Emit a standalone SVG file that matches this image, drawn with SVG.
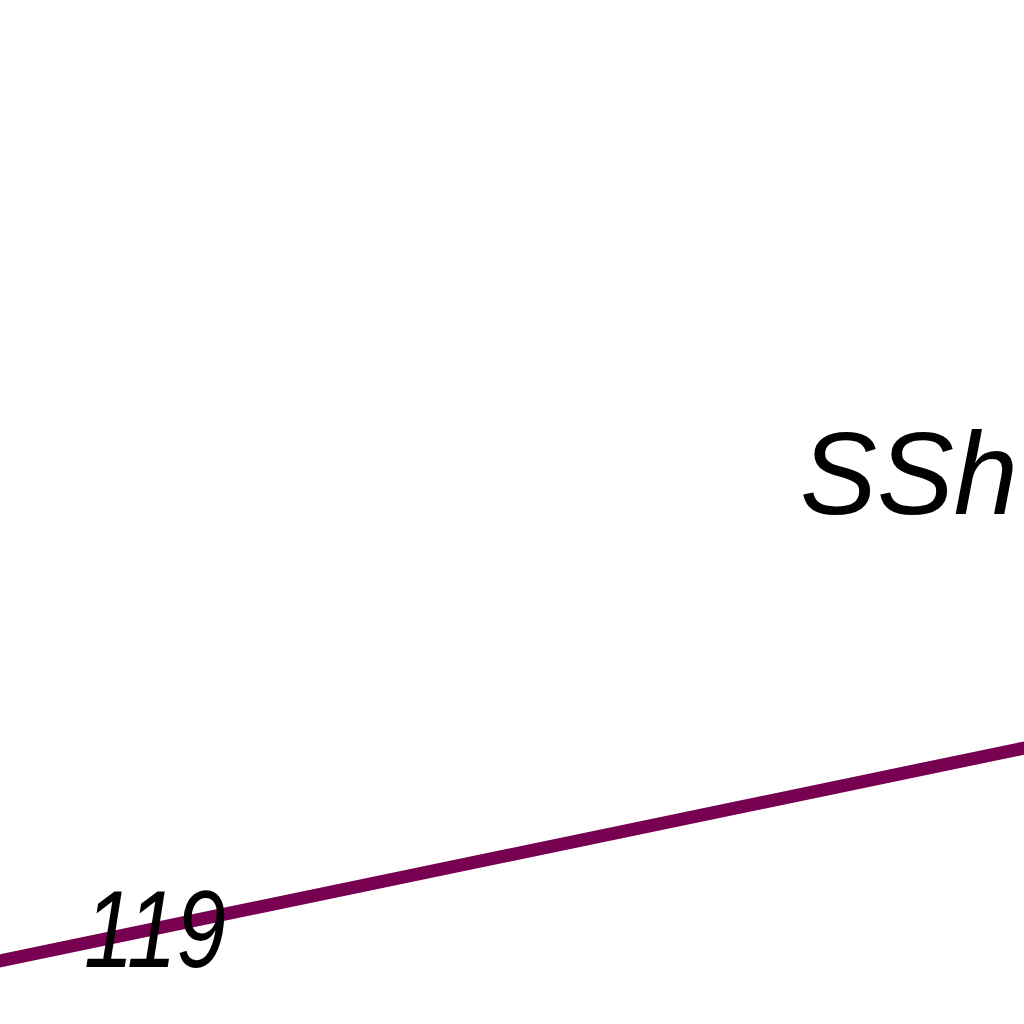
<svg xmlns="http://www.w3.org/2000/svg" width="1024" height="1024" viewBox="0 0 1024 1024">
<style>
.lbl{font-family:"Liberation Sans",Arial,sans-serif;font-style:italic;fill:#000;}
.road{stroke:#770050;stroke-width:13;fill:none;}
</style>
<rect width="1024" height="1024" fill="#fff"/>
<g id="connectors">
<line class="road" x1="-10" y1="963" x2="1034" y2="746"/>
</g>
<g id="label-ssh">
<text class="lbl" x="800" y="514" font-size="117" textLength="218" lengthAdjust="spacingAndGlyphs">SSh</text>
</g>
<g id="label-119">
<text class="lbl" x="84" y="967" font-size="110" textLength="142" lengthAdjust="spacingAndGlyphs">119</text>
</g>
</svg>
